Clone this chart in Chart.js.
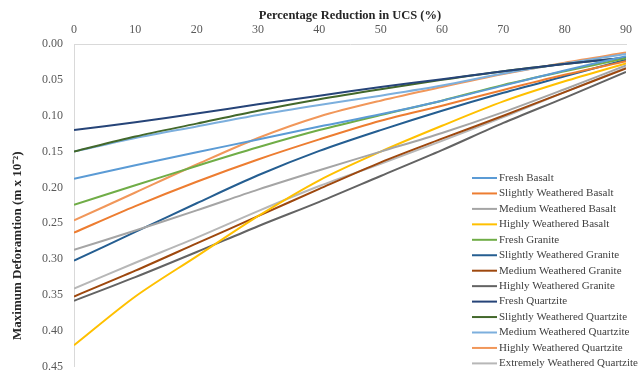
<!DOCTYPE html>
<html>
<head>
<meta charset="utf-8">
<script src="https://cdn.jsdelivr.net/npm/chart.js@4/dist/chart.umd.min.js"></script>
<style>
  html, body { margin: 0; padding: 0; background: #ffffff; }
  #wrap { width: 643px; height: 385px; position: relative; }
</style>
</head>
<body>
<div id="wrap"><canvas id="chart" width="643" height="385"></canvas></div>
<script>
// Percentage reduction in UCS (x values shared by every series)
const reductionPct = [0, 10, 20, 30, 40, 50, 60, 70, 80, 90];

// Maximum deformation (m x 10^-2) for each rock type
const freshBasalt            = [0.188, 0.169, 0.151, 0.133, 0.115, 0.098, 0.079, 0.058, 0.037, 0.017];
const slightlyWeatheredBasalt = [0.263, 0.226, 0.192, 0.161, 0.133, 0.107, 0.086, 0.064, 0.043, 0.024];
const mediumWeatheredBasalt  = [0.287, 0.260, 0.232, 0.203, 0.176, 0.150, 0.124, 0.095, 0.063, 0.030];
const highlyWeatheredBasalt  = [0.420, 0.352, 0.296, 0.240, 0.190, 0.150, 0.114, 0.080, 0.052, 0.027];
const freshGranite           = [0.224, 0.197, 0.170, 0.144, 0.120, 0.099, 0.079, 0.057, 0.038, 0.020];
const slightlyWeatheredGranite = [0.302, 0.262, 0.222, 0.183, 0.149, 0.120, 0.093, 0.068, 0.045, 0.022];
const mediumWeatheredGranite = [0.352, 0.316, 0.278, 0.240, 0.202, 0.165, 0.132, 0.100, 0.067, 0.034];
const highlyWeatheredGranite = [0.358, 0.325, 0.290, 0.254, 0.220, 0.184, 0.148, 0.110, 0.075, 0.039];
const freshQuartzite         = [0.120, 0.109, 0.097, 0.084, 0.072, 0.060, 0.049, 0.038, 0.028, 0.019];
const slightlyWeatheredQuartzite = [0.150, 0.129, 0.111, 0.093, 0.077, 0.063, 0.050, 0.038, 0.028, 0.019];
const mediumWeatheredQuartzite = [0.150, 0.131, 0.115, 0.099, 0.085, 0.072, 0.058, 0.041, 0.027, 0.014];
const highlyWeatheredQuartzite = [0.246, 0.207, 0.168, 0.131, 0.101, 0.079, 0.060, 0.042, 0.026, 0.012];
const extremelyWeatheredQuartzite = [0.341, 0.305, 0.270, 0.233, 0.198, 0.167, 0.135, 0.102, 0.067, 0.033];

const seriesNames = [
  'Fresh Basalt', 'Slightly Weathered Basalt', 'Medium Weathered Basalt', 'Highly Weathered Basalt',
  'Fresh Granite', 'Slightly Weathered Granite', 'Medium Weathered Granite', 'Highly Weathered Granite',
  'Fresh Quartzite', 'Slightly Weathered Quartzite', 'Medium Weathered Quartzite',
  'Highly Weathered Quartzite', 'Extremely Weathered Quartzite'
];
const seriesValues = [
  freshBasalt, slightlyWeatheredBasalt, mediumWeatheredBasalt, highlyWeatheredBasalt,
  freshGranite, slightlyWeatheredGranite, mediumWeatheredGranite, highlyWeatheredGranite,
  freshQuartzite, slightlyWeatheredQuartzite, mediumWeatheredQuartzite,
  highlyWeatheredQuartzite, extremelyWeatheredQuartzite
];
const seriesColors = [
  '#5B9BD5', '#ED7D31', '#A5A5A5', '#FFC000',
  '#70AD47', '#255E91', '#9E480E', '#636363',
  '#264478', '#43682B', '#7CAFDD', '#F1975A', '#B7B7B7'
];

const xTitle = 'Percentage Reduction in UCS (%)';
const yTitle = 'Maximum Deforamtion (m x 10\u207B\u00B2)';

const serif = "'Liberation Serif', 'Times New Roman', serif";

const datasets = seriesNames.map((name, i) => ({
  label: name,
  data: reductionPct.map((x, j) => ({ x: x, y: seriesValues[i][j] })),
  borderColor: seriesColors[i],
  backgroundColor: seriesColors[i],
  borderWidth: 2,
  pointRadius: 0,
  tension: 0.3,
  fill: false
}));

// Legend drawn inside the plot area, lower right
const insideLegend = {
  id: 'insideLegend',
  afterDraw(chart) {
    const ctx = chart.ctx;
    const x0 = 472, x1 = 497, tx = 499;
    const top = 178, step = 15.45;
    ctx.save();
    ctx.font = '11px ' + serif;
    ctx.textBaseline = 'middle';
    ctx.textAlign = 'left';
    chart.data.datasets.forEach((ds, i) => {
      const y = top + i * step;
      ctx.strokeStyle = ds.borderColor;
      ctx.lineWidth = 2;
      ctx.beginPath();
      ctx.moveTo(x0, y);
      ctx.lineTo(x1, y);
      ctx.stroke();
      ctx.fillStyle = '#404040';
      ctx.fillText(ds.label, tx, y);
    });
    ctx.restore();
  }
};

// Vertical axis title, set a little below the middle of the value axis
const valueAxisTitle = {
  id: 'valueAxisTitle',
  afterDraw(chart) {
    const ctx = chart.ctx;
    const area = chart.chartArea;
    ctx.save();
    ctx.translate(18, area.top + (area.bottom - area.top) * 0.625);
    ctx.rotate(-Math.PI / 2);
    ctx.font = 'bold 13px ' + serif;
    ctx.fillStyle = '#262626';
    ctx.textAlign = 'center';
    ctx.textBaseline = 'middle';
    ctx.fillText(yTitle, 0, 0);
    ctx.restore();
  }
};

new Chart(document.getElementById('chart'), {
  type: 'line',
  data: { datasets },
  plugins: [insideLegend, valueAxisTitle],
  options: {
    responsive: false,
    animation: false,
    layout: { padding: { left: 0, top: 0, right: 17, bottom: 16 } },
    plugins: { legend: { display: false }, tooltip: { enabled: false } },
    scales: {
      x: {
        type: 'linear',
        position: 'top',
        min: 0,
        max: 90,
        grid: { display: false, drawTicks: false },
        border: { color: '#D9D9D9', width: 1 },
        ticks: {
          stepSize: 10,
          maxRotation: 0,
          padding: 7,
          color: '#595959',
          font: { family: serif, size: 12 }
        },
        title: {
          display: true,
          text: xTitle,
          color: '#262626',
          font: { family: serif, size: 12.5, weight: 'bold' },
          padding: { top: 8, bottom: 0 }
        },
        afterFit(scale) { scale.height = 44; }
      },
      y: {
        type: 'linear',
        reverse: true,
        min: 0,
        max: 0.45,
        grid: { display: false, drawTicks: false },
        border: { color: '#D9D9D9', width: 1 },
        ticks: {
          stepSize: 0.05,
          padding: 11,
          color: '#595959',
          font: { family: serif, size: 12 },
          callback: v => v.toFixed(2)
        },
        title: { display: false },
        afterFit(scale) { scale.width = 74; }
      }
    }
  }
});
</script>
</body>
</html>
